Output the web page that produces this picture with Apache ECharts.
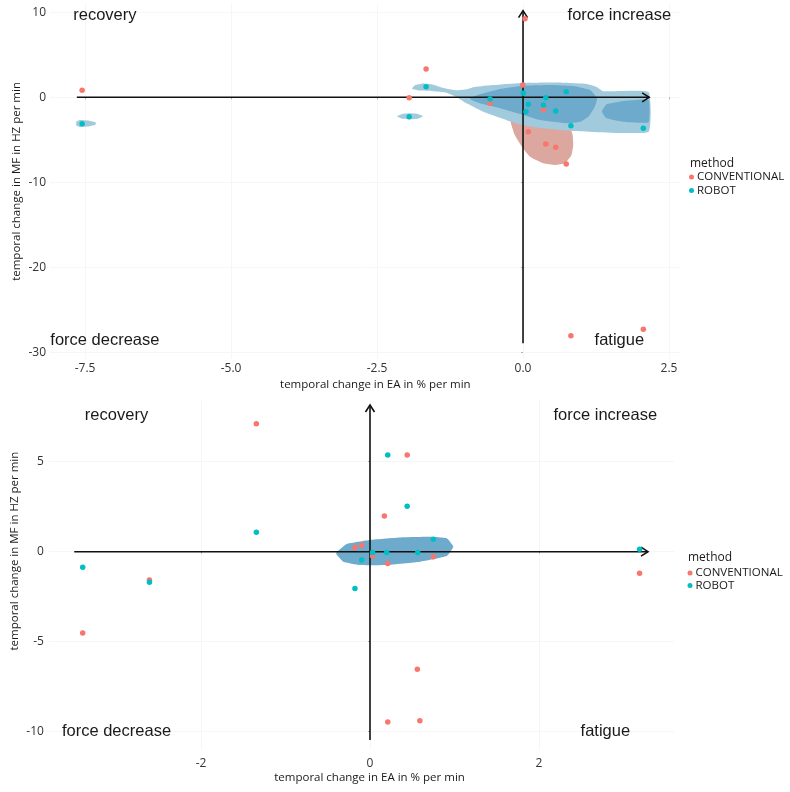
<!DOCTYPE html>
<html>
<head>
<meta charset="utf-8">
<script src="https://cdn.jsdelivr.net/npm/echarts@6/dist/echarts.min.js"></script>
<style>html,body{margin:0;padding:0;background:#fff}#chart{width:790px;height:792px}</style>
</head>
<body>
<div id="chart"></div>
<script>
// ---------------- data ----------------
const methods = ['CONVENTIONAL', 'ROBOT'];
const quadrantLabels = ['recovery', 'force increase', 'force decrease', 'fatigue'];

// top panel points [EA change, MF change]
const topConventional = [[-7.55,0.82],[-1.66,3.33],[-1.95,-0.05],[-0.565,-0.7],[-0.005,1.45],[0.034,9.25],[0.35,-1.46],[0.09,-4.05],[0.39,-5.49],[0.56,-5.88],[0.74,-7.85],[0.82,-28.04],[2.06,-27.3]];
const topRobot = [[-7.55,-3.1],[-1.95,-2.28],[-1.66,1.25],[-0.565,-0.2],[0.005,0.47],[0.09,-0.82],[0.05,-1.69],[0.39,-0.05],[0.35,-0.91],[0.56,-1.61],[0.74,0.66],[0.82,-3.34],[2.06,-3.65]];

// bottom panel points
const bottomConventional = [[-1.345,7.11],[0.44,5.37],[0.17,1.98],[-2.61,-1.57],[-3.40,-4.52],[-0.178,0.24],[-0.098,0.36],[0.03,-0.24],[0.21,-0.65],[0.75,-0.28],[3.19,-1.2],[0.56,-6.53],[0.21,-9.46],[0.59,-9.39]];
const bottomRobot = [[0.21,5.37],[0.44,2.52],[-1.345,1.08],[-3.40,-0.87],[-2.61,-1.70],[-0.178,-2.04],[-0.098,-0.46],[0.03,-0.04],[0.198,-0.04],[0.565,-0.04],[0.75,0.69],[3.19,0.13]];

// density contour outlines (data units)
const topRobotOuter = [[-1.90,1.02],[-1.85,1.41],[-1.71,1.61],[-1.54,1.49],[-1.36,1.10],[-1.14,0.82],[-0.96,0.94],[-0.85,1.18],[-0.57,1.41],[-0.28,1.57],[0.005,1.69],[0.58,1.73],[1.09,1.57],[1.26,1.22],[1.375,0.71],[2.15,0.63],[2.15,-4.07],[0.86,-3.95],[0.29,-3.60],[0.005,-3.28],[-0.28,-2.69],[-0.68,-1.71],[-0.96,-0.74],[-1.14,0.04],[-1.31,0.55],[-1.54,0.71],[-1.76,0.79]];
const topRobotInner = [[-0.91,-0.12],[-0.74,0.35],[-0.39,0.98],[0.005,1.36],[0.46,1.45],[0.86,1.33],[1.15,0.86],[1.27,-0.12],[1.23,-1.11],[1.12,-2.28],[0.98,-2.87],[0.75,-3.06],[0.29,-2.67],[0.005,-2.08],[-0.39,-1.29],[-0.74,-0.71],[-0.88,-0.32]];
const topRobotInnerRight = [[1.35,-1.69],[1.43,-0.82],[1.72,-0.44],[2.15,-0.32],[2.15,-2.94],[1.72,-2.87],[1.43,-2.47]];
const topConventionalBlob = [[-0.22,-2.45],[-0.14,-4.44],[-0.02,-5.81],[0.12,-6.99],[0.35,-7.76],[0.55,-7.96],[0.72,-7.76],[0.83,-6.79],[0.86,-5.61],[0.85,-4.44],[0.80,-3.49],[0.29,-3.14]];
const topRobotBlobLeft = [[-7.65,-2.85],[-7.59,-2.67],[-7.45,-2.73],[-7.33,-2.91],[-7.31,-3.08],[-7.33,-3.26],[-7.45,-3.44],[-7.59,-3.49],[-7.65,-3.32]];
const topRobotBlobMid = [[-2.16,-2.24],[-2.07,-1.96],[-1.93,-1.88],[-1.80,-1.96],[-1.71,-2.24],[-1.80,-2.52],[-1.93,-2.59],[-2.07,-2.52]];
const bottomRobotInner = [[-0.402,-0.089],[-0.276,0.428],[0,0.65],[0.394,0.80],[0.71,0.83],[0.908,0.744],[0.986,0.278],[0.908,-0.239],[0.592,-0.556],[0.198,-0.739],[-0.118,-0.739],[-0.316,-0.556]];

// quadrant label anchors [x, y]
const topLabelAnchors = [[-7.16,9.65],[1.65,9.65],[-7.16,-28.6],[1.65,-28.6]];
const bottomLabelAnchors = [[-3.0,7.56],[2.785,7.56],[-3.0,-10.0],[2.785,-10.0]];

// axis arrows [x1, y1, x2, y2]
const topArrows = [[-7.64,0,2.16,0],[0,-28.94,0,10.19]];
const bottomArrows = [[-3.50,0,3.29,0],[0,-10.46,0,8.15]];

// ticks
const topXTicks = [-7.5,-5,-2.5,0,2.5];
const topYTicks = [-30,-20,-10,0,10];
const bottomXTicks = [-2,0,2];
const bottomYTicks = [-10,-5,0,5];

// ---------------- styling ----------------
const COLORS = {CONVENTIONAL:'#F8766D', ROBOT:'#00BFC4'};
const FILL_OUTER = '#a2cadd';
const FILL_INNER = '#6eaacb';
const FILL_CONV = '#dba79e';
const AXIS_FONT = 'Open Sans';
const xTitle = 'temporal change in EA in % per min';
const yTitle = 'temporal change in MF in HZ per min';

function polygonSeries(gi, pts, color) {
  return {
    type:'custom', xAxisIndex:gi, yAxisIndex:gi, z:1, silent:true, data:pts,
    renderItem:function(params, api){
      if (params.dataIndex !== 0) return null;
      return {type:'polygon', shape:{points:pts.map(p=>api.coord(p)), smooth:0.12}, style:{fill:color}};
    }
  };
}
function arrowSeries(gi, arrows) {
  return {
    type:'custom', xAxisIndex:gi, yAxisIndex:gi, z:3, silent:true, data:arrows,
    renderItem:function(params, api){
      const a = api.coord([api.value(0), api.value(1)]);
      const b = api.coord([api.value(2), api.value(3)]);
      const dx = b[0]-a[0], dy = b[1]-a[1];
      const len = Math.sqrt(dx*dx+dy*dy);
      const ux = dx/len, uy = dy/len;
      const hl = 7, hw = 4.5;
      const p1 = [b[0]-ux*hl - uy*hw, b[1]-uy*hl + ux*hw];
      const p2 = [b[0]-ux*hl + uy*hw, b[1]-uy*hl - ux*hw];
      return {type:'group', children:[
        {type:'line', shape:{x1:a[0],y1:a[1],x2:b[0],y2:b[1]}, style:{stroke:'#111', lineWidth:1.6}},
        {type:'polyline', shape:{points:[p1,b,p2]}, style:{stroke:'#111', lineWidth:1.6, fill:null}}
      ]};
    }
  };
}
function labelSeries(gi, anchors) {
  return {
    type:'custom', xAxisIndex:gi, yAxisIndex:gi, z:5, silent:true, data:anchors,
    renderItem:function(params, api){
      const p = api.coord([api.value(0), api.value(1)]);
      return {type:'text', x:p[0], y:p[1], style:{text:quadrantLabels[params.dataIndex], fill:'#1a1a1a', font:'16.5px "Liberation Sans", Arial, sans-serif', align:'center', verticalAlign:'middle'}};
    }
  };
}
function scatterSeries(gi, name, data) {
  return {type:'scatter', name:name, xAxisIndex:gi, yAxisIndex:gi, z:4, data:data, symbolSize:5.5,
    itemStyle:{color:COLORS[name], opacity:1}};
}
function xAxis(gi, min, max, ticks, fmt, margin, gap, padL) {
  return {type:'value', gridIndex:gi, min:min, max:max,
    axisLine:{show:false},
    axisTick:{show:true, length:2, customValues:ticks, lineStyle:{color:'#b0b0b0'}},
    axisLabel:{customValues:ticks, formatter:fmt, margin:margin, color:'#333', fontFamily:AXIS_FONT, fontSize:12},
    splitLine:{show:true, lineStyle:{color:'#f6f6f6', width:1}},
    name:xTitle, nameLocation:'middle', nameGap:gap, nameMoveOverlap:false,
    nameTextStyle:{color:'#1a1a1a', fontFamily:AXIS_FONT, fontSize:11.5, padding:[0,0,0,padL]}};
}
function yAxis(gi, min, max, ticks, margin, gap, padL) {
  return {type:'value', gridIndex:gi, min:min, max:max,
    axisLine:{show:false},
    axisTick:{show:true, length:2, customValues:ticks, lineStyle:{color:'#b0b0b0'}},
    axisLabel:{customValues:ticks, margin:margin, color:'#333', fontFamily:AXIS_FONT, fontSize:12},
    splitLine:{show:true, lineStyle:{color:'#f6f6f6', width:1}},
    name:yTitle, nameLocation:'middle', nameGap:gap, nameMoveOverlap:false,
    nameTextStyle:{color:'#1a1a1a', fontFamily:AXIS_FONT, fontSize:11.5, padding:[0,0,0,padL]}};
}

const option = {
  backgroundColor:'#ffffff',
  animation:false,
  grid:[
    {left:50, top:3.8, width:630.7, height:355.3, outerBoundsMode:'none', containLabel:false},
    {left:48.9, top:400.5, width:625.3, height:349.2, outerBoundsMode:'none', containLabel:false}
  ],
  xAxis:[
    xAxis(0, -8.1, 2.7, topXTicks, v=>v.toFixed(1), 3, 19.5, 20),
    xAxis(1, -3.8, 3.6, bottomXTicks, v=>String(v), 8, 22, 16)
  ],
  yAxis:[
    yAxis(0, -30.8, 11, topYTicks, 4, 27, 0),
    yAxis(1, -11, 8.4, bottomYTicks, 5, 28, 48)
  ],
  legend:[
    {data:methods, orient:'vertical', left:689, top:171, padding:0, itemWidth:5, itemHeight:5, itemGap:1.5, icon:'circle',
     textStyle:{fontFamily:AXIS_FONT, fontSize:11.5, color:'#1a1a1a', padding:[0,0,0,-2]}, selectedMode:false},
    {data:methods, orient:'vertical', left:687.5, top:567, padding:0, itemWidth:5, itemHeight:5, itemGap:0.5, icon:'circle',
     textStyle:{fontFamily:AXIS_FONT, fontSize:11.5, color:'#1a1a1a', padding:[0,0,0,-2]}, selectedMode:false}
  ],
  graphic:[
    {type:'text', left:690, top:157.5, style:{text:'method', font:'12px "Open Sans"', fill:'#1a1a1a'}},
    {type:'text', left:688, top:551.5, style:{text:'method', font:'12px "Open Sans"', fill:'#1a1a1a'}}
  ],
  series:[
    polygonSeries(0, topConventionalBlob, FILL_CONV),
    polygonSeries(0, topRobotOuter, FILL_OUTER),
    polygonSeries(0, topRobotInner, FILL_INNER),
    polygonSeries(0, topRobotInnerRight, FILL_INNER),
    polygonSeries(0, topRobotBlobLeft, FILL_OUTER),
    polygonSeries(0, topRobotBlobMid, FILL_OUTER),
    polygonSeries(1, bottomRobotInner, FILL_INNER),
    arrowSeries(0, topArrows),
    arrowSeries(1, bottomArrows),
    scatterSeries(0, 'CONVENTIONAL', topConventional),
    scatterSeries(0, 'ROBOT', topRobot),
    scatterSeries(1, 'CONVENTIONAL', bottomConventional),
    scatterSeries(1, 'ROBOT', bottomRobot),
    labelSeries(0, topLabelAnchors),
    labelSeries(1, bottomLabelAnchors)
  ]
};
const chart = echarts.init(document.getElementById('chart'), null, {renderer:'canvas'});
chart.setOption(option);
</script>
</body>
</html>
